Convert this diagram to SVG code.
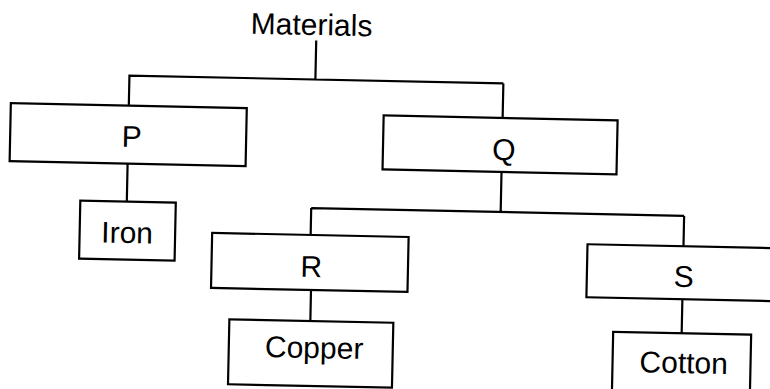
<svg xmlns="http://www.w3.org/2000/svg" width="770" height="389" viewBox="0 0 770 389">
<style>
.box{fill:#fff;stroke:#000;stroke-width:2.2}
.ln{fill:none;stroke:#000;stroke-width:2.2}
text{font-family:"Liberation Sans",Arial,sans-serif;font-size:30px;fill:#000;text-anchor:middle}
</style>
<rect width="770" height="389" fill="#fff"/>
<g transform="rotate(1.2 385 195)">
<g id="connectors">
<path class="ln" d="M313 42V81M126 81H501M127 81V111M501 81V115.5"/>
<path class="ln" d="M127 169V207"/>
<path class="ln" d="M501 169.5V209.6M311.5 209.6H684.5M311.5 209.6V236.5M684.5 209.6V240"/>
<path class="ln" d="M313 291.5V322.5M684.5 293V327"/>
</g>
<g id="materials"><text x="308" y="36.5">Materials</text></g>
<g id="P"><rect class="box" x="9" y="111" width="236" height="58"/><text x="130.5" y="152.3">P</text></g>
<g id="Q"><rect class="box" x="382" y="115.5" width="234" height="54"/><text x="502.8" y="157.5">Q</text></g>
<g id="Iron"><rect class="box" x="80.5" y="207" width="95.5" height="58"/><text x="128" y="248.4">Iron</text></g>
<g id="R"><rect class="box" x="213" y="236.5" width="196.5" height="55"/><text x="312.7" y="278.5">R</text></g>
<g id="S"><rect class="box" x="588.5" y="240" width="230" height="53"/><text x="685.4" y="280.8">S</text></g>
<g id="Copper"><rect class="box" x="232" y="322.5" width="164" height="65"/><text x="317.4" y="359.5">Copper</text></g>
<g id="Cotton"><rect class="box" x="616" y="327" width="138" height="90"/><text x="687.2" y="366.8">Cotton</text></g>
</g>
</svg>
